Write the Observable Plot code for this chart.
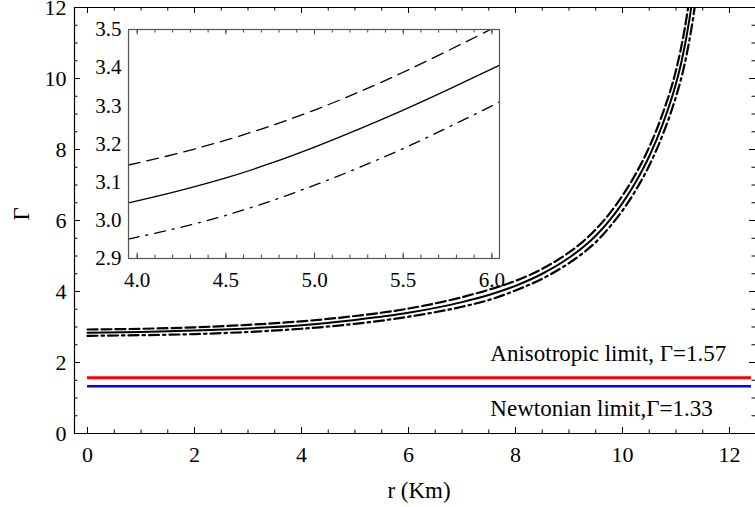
<!DOCTYPE html>
<html><head><meta charset="utf-8">
<script src="https://cdn.jsdelivr.net/npm/d3@7"></script>
<script src="https://cdn.jsdelivr.net/npm/@observablehq/plot@0.6"></script>
<style>
html,body{margin:0;padding:0;background:#fff;}
#wrap{position:relative;width:755px;height:507px;overflow:hidden;background:#fff;}
#wrap svg{position:absolute;overflow:visible;}
</style></head><body><div id="wrap"></div>
<script>
// ---- main panel data: r (Km) vs Gamma ----
const r = [0, 1, 2, 3, 4, 5, 6, 7, 7.5, 8, 8.5, 9, 9.25, 9.5, 9.75, 10, 10.25, 10.5, 10.75, 11, 11.1, 11.2, 11.3, 11.4];
const gammaSolid   = [2.84, 2.86, 2.90, 2.96, 3.05, 3.20, 3.40, 3.70, 3.90, 4.16, 4.50, 4.95, 5.23, 5.57, 5.99, 6.49, 7.09, 7.81, 8.71, 9.86, 10.46, 11.21, 12.16, 13.36];
const gammaDashed  = [2.93, 2.95, 2.99, 3.06, 3.16, 3.31, 3.52, 3.84, 4.05, 4.30, 4.64, 5.10, 5.39, 5.75, 6.18, 6.70, 7.32, 8.07, 9.01, 10.23, 10.90, 11.74, 12.81, 14.16];
const gammaDashdot = [2.75, 2.77, 2.80, 2.86, 2.95, 3.09, 3.29, 3.57, 3.76, 4.03, 4.36, 4.80, 5.07, 5.39, 5.80, 6.28, 6.86, 7.55, 8.41, 9.49, 10.02, 10.68, 11.51, 12.56];

// ---- limits ----
const anisoLimit = 1.57;
const newtonLimit = 1.33;
const limitR = [0, 12.41];
const anisoLabel = "Anisotropic limit, \u0393=1.57";
const newtonLabel = "Newtonian limit,\u0393=1.33";
const labelR = 7.53;

// ---- inset data ----
const rInset = [3.95, 4.0, 4.25, 4.5, 4.75, 5.0, 5.25, 5.5, 5.75, 6.0, 6.05];
const insetSolid   = [3.046, 3.051, 3.079, 3.111, 3.149, 3.192, 3.239, 3.289, 3.342, 3.397, 3.408];
const insetDashed  = [3.145, 3.150, 3.178, 3.210, 3.247, 3.289, 3.336, 3.388, 3.444, 3.502, 3.514];
const insetDashdot = [2.951, 2.956, 2.982, 3.013, 3.050, 3.092, 3.138, 3.188, 3.243, 3.300, 3.312];

// ---- tick labels ----
const xTicks = [0, 2, 4, 6, 8, 10, 12];
const yTicks = [0, 2, 4, 6, 8, 10, 12];
const insetXTicks = [4.0, 4.5, 5.0, 5.5, 6.0];
const insetYTicks = [2.9, 3.0, 3.1, 3.2, 3.3, 3.4, 3.5];
const xLabel = "r (Km)";
const yLabel = "\u0393";

const font = "'Liberation Serif', 'Times New Roman', serif";
const rows = (xs, ys) => xs.map((x, i) => ({r: x, g: ys[i]}));

// ---------- main plot ----------
const W = 755, H = 507, mL = 74, mT = 7, mB = 74, mR = 0;
const fw = W - mL - mR, fh = H - mT - mB;
const xDom = [-0.243, 12.486], yDom = [0, 12];
const xMinor = d3.range(0, 12.01, 0.5);
const yMinor = d3.range(0, 12.01, 0.5);
const tickMarks = (maj, min, fwid, fhei, majLen, minLen, color) => [
  Plot.ruleX(min, {x: d => d, insetTop: fhei - minLen, stroke: color}),
  Plot.ruleX(maj, {x: d => d, insetTop: fhei - majLen, stroke: color}),
  Plot.ruleX(min, {x: d => d, insetBottom: fhei - minLen, stroke: color}),
  Plot.ruleX(maj, {x: d => d, insetBottom: fhei - majLen, stroke: color}),
  Plot.ruleY(min, {y: d => d, insetRight: fwid - minLen, stroke: color}),
  Plot.ruleY(maj, {y: d => d, insetRight: fwid - majLen, stroke: color}),
  Plot.ruleY(min, {y: d => d, insetLeft: fwid - minLen, stroke: color}),
  Plot.ruleY(maj, {y: d => d, insetLeft: fwid - majLen, stroke: color})
];

const mainPlot = Plot.plot({
  width: W, height: H,
  marginLeft: mL, marginRight: mR, marginTop: mT, marginBottom: mB,
  x: {domain: xDom, axis: null},
  y: {domain: yDom, axis: null},
  style: {fontFamily: font, fontSize: "22px", background: "transparent", color: "black"},
  marks: [
    ...tickMarks(xTicks, xMinor, fw, fh, 6, 3.5, "black"),
    Plot.ruleY([yDom[0]], {stroke: "black", strokeWidth: 1.2}),
    Plot.ruleY([yDom[1]], {stroke: "black", strokeWidth: 1.2}),
    Plot.ruleX([xDom[0]], {stroke: "black", strokeWidth: 1.2}),
    Plot.ruleY([anisoLimit], {x1: limitR[0], x2: limitR[1], stroke: "#ff0000", strokeWidth: 3.2}),
    Plot.ruleY([newtonLimit], {x1: limitR[0], x2: limitR[1], stroke: "#0000ff", strokeWidth: 2.6}),
    Plot.line(rows(r, gammaSolid), {x: "r", y: "g", stroke: "black", strokeWidth: 2, curve: "monotone-x", clip: true}),
    Plot.line(rows(r, gammaDashed), {x: "r", y: "g", stroke: "black", strokeWidth: 2.2, strokeDasharray: "10,4", curve: "monotone-x", clip: true}),
    Plot.line(rows(r, gammaDashdot), {x: "r", y: "g", stroke: "black", strokeWidth: 2.2, strokeDasharray: "10,4,2.5,4", curve: "monotone-x", clip: true}),
    Plot.text(xTicks, {x: d => d, y: yDom[0], dy: 21, text: d => String(d), lineAnchor: "middle"}),
    Plot.text(yTicks, {x: xDom[0], y: d => d, dx: -8, text: d => String(d), textAnchor: "end", lineAnchor: "middle"}),
    Plot.text([xLabel], {frameAnchor: "bottom", dx: 4, dy: 57, text: d => d, lineAnchor: "middle", fontSize: 23}),
    Plot.text([yLabel], {frameAnchor: "left", dx: -53, text: d => d, rotate: -90, lineAnchor: "middle", fontSize: 23}),
    Plot.text([anisoLabel], {x: labelR, y: anisoLimit, dy: -24, text: d => d, textAnchor: "start", lineAnchor: "middle", fontSize: 23}),
    Plot.text([newtonLabel], {x: labelR, y: newtonLimit, dy: 22, text: d => d, textAnchor: "start", lineAnchor: "middle", fontSize: 23})
  ]
});
mainPlot.style.left = "0px"; mainPlot.style.top = "0px";
document.getElementById("wrap").appendChild(mainPlot);

// ---------- inset ----------
const iL = 48, iT = 10, iR = 8, iB = 36, ifw = 371, ifh = 229;
const ixDom = [3.951, 6.043], iyDom = [2.9, 3.5];
const ixMinor = d3.range(40, 61, 1).map(d => d / 10);
const iyMinor = d3.range(145, 176, 1).map(d => d / 50);
const insetPlot = Plot.plot({
  width: iL + ifw + iR, height: iT + ifh + iB,
  marginLeft: iL, marginRight: iR, marginTop: iT, marginBottom: iB,
  x: {domain: ixDom, axis: null},
  y: {domain: iyDom, axis: null},
  style: {fontFamily: font, fontSize: "21px", background: "transparent", color: "black"},
  marks: [
    Plot.frame({fill: "white", stroke: "none"}),
    ...tickMarks(insetXTicks, ixMinor, ifw, ifh, 5.5, 3.5, "#444"),
    Plot.line(rows(rInset, insetSolid), {x: "r", y: "g", stroke: "black", strokeWidth: 1.3, curve: "monotone-x", clip: true}),
    Plot.line(rows(rInset, insetDashed), {x: "r", y: "g", stroke: "black", strokeWidth: 1.3, strokeDasharray: "12,7", curve: "monotone-x", clip: true}),
    Plot.line(rows(rInset, insetDashdot), {x: "r", y: "g", stroke: "black", strokeWidth: 1.3, strokeDasharray: "11,7,2,7", curve: "monotone-x", clip: true}),
    Plot.frame({stroke: "#555", strokeWidth: 1.2}),
    Plot.text(insetXTicks, {x: d => d, y: iyDom[0], dy: 22, text: d => d.toFixed(1), lineAnchor: "middle"}),
    Plot.text(insetYTicks, {x: ixDom[0], y: d => d, dx: -7, text: d => d.toFixed(1), textAnchor: "end", lineAnchor: "middle"})
  ]
});
insetPlot.style.left = (128 - iL) + "px"; insetPlot.style.top = (29 - iT) + "px";
document.getElementById("wrap").appendChild(insetPlot);
</script>
</body></html>
